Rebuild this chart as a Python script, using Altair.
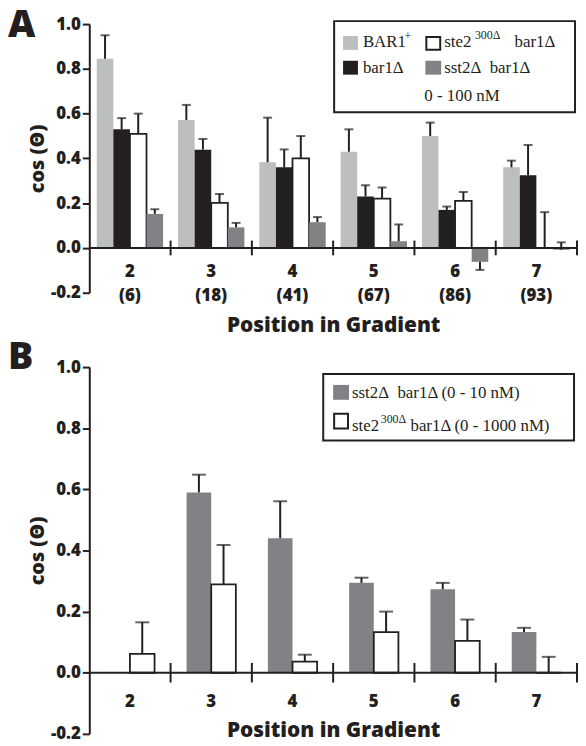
import altair as alt
import pandas as pd

# ---------------- data ----------------
positions = ["2", "3", "4", "5", "6", "7"]
conc_labels = ["(6)", "(18)", "(41)", "(67)", "(86)", "(93)"]

seriesA = ["BAR1+", "bar1Δ", "ste2-300Δ bar1Δ", "sst2Δ bar1Δ"]
colorsA = ["#bcbec0", "#231f20", "#ffffff", "#808285"]

bar1p_val = [0.845, 0.572, 0.383, 0.43, 0.50, 0.36]
bar1p_err = [0.95, 0.639, 0.582, 0.53, 0.56, 0.39]
bar1d_val = [0.53, 0.439, 0.36, 0.23, 0.17, 0.325]
bar1d_err = [0.58, 0.487, 0.44, 0.28, 0.185, 0.46]
ste2A_val = [0.51, 0.201, 0.40, 0.22, 0.21, 0.0]
ste2A_err = [0.60, 0.241, 0.50, 0.27, 0.25, 0.16]
sst2A_val = [0.152, 0.092, 0.115, 0.03, -0.062, -0.008]
sst2A_err = [0.173, 0.112, 0.138, 0.105, -0.098, 0.025]

seriesB = ["sst2Δ bar1Δ (0 - 10 nM)", "ste2-300Δ bar1Δ (0 - 1000 nM)"]
colorsB = ["#808285", "#ffffff"]
sst2B_val = [None, 0.59, 0.44, 0.294, 0.273, 0.133]
sst2B_err = [None, 0.648, 0.561, 0.311, 0.294, 0.147]
ste2B_val = [0.062, 0.289, 0.036, 0.133, 0.104, 0.0]
ste2B_err = [0.165, 0.418, 0.059, 0.20, 0.174, 0.052]

y_ticks = [-0.2, 0.0, 0.2, 0.4, 0.6, 0.8, 1.0]

# ---------------- style ----------------
SANS = "Open Sans"
SERIF = "Liberation Serif"
INK = "#231f20"
W = 492
HA = 271
HB = 370

catA = [f"{p}|{c}" for p, c in zip(positions, conc_labels)]
catB = list(positions)

rowsA = []
for i, cat in enumerate(catA):
    for s, v, e in zip(seriesA,
                       [bar1p_val[i], bar1d_val[i], ste2A_val[i], sst2A_val[i]],
                       [bar1p_err[i], bar1d_err[i], ste2A_err[i], sst2A_err[i]]):
        rowsA.append({"pos": cat, "series": s, "value": v, "err": e})
dfA = pd.DataFrame(rowsA)

rowsB = []
for i, cat in enumerate(catB):
    for s, v, e in zip(seriesB, [sst2B_val[i], ste2B_val[i]], [sst2B_err[i], ste2B_err[i]]):
        rowsB.append({"pos": cat, "series": s, "value": v, "err": e})
dfB = pd.DataFrame(rowsB)

ylabel_expr = "datum.value < 0 ? '-' + format(-datum.value, '.1f') : format(datum.value, '.1f')"


def y_axis():
    return alt.Axis(title="cos (Θ)", values=y_ticks, labelExpr=ylabel_expr, grid=False,
                    domainColor=INK, domainWidth=2, tickColor=INK, tickWidth=2, tickSize=7,
                    labelFont=SANS, labelFontWeight=800, labelFontSize=17, labelColor=INK,
                    labelPadding=2, titleFont=SANS, titleFontSize=20, titleFontWeight=800,
                    titleColor=INK, titlePadding=3)


def make_panel(df, cats, series, colors, white_series, height, pad_outer, cap,
               label_expr, label_pad, title_pad, tick_half):
    zero_off = -height / 6.0
    xaxis = alt.Axis(title="Position in Gradient", labelExpr=label_expr, labelAngle=0,
                     domain=False, ticks=False, tickSize=0, labelPadding=label_pad,
                     labelLineHeight=24, offset=zero_off, labelFont=SANS,
                     labelFontWeight=800, labelFontSize=17, labelColor=INK,
                     titleFont=SANS, titleFontSize=21, titleFontWeight=800,
                     titleColor=INK, titlePadding=title_pad)
    xscale = alt.Scale(domain=cats, paddingInner=0, paddingOuter=0)
    yscale = alt.Scale(domain=[-0.2, 1.0], nice=False, zero=False)
    offscale = alt.Scale(domain=series, paddingInner=0, paddingOuter=pad_outer)

    def X(bp=None):
        if bp is None:
            return alt.X("pos:N", sort=cats, scale=xscale, axis=xaxis)
        return alt.X("pos:N", sort=cats, scale=xscale, axis=xaxis, bandPosition=bp)

    def Y(field):
        return alt.Y(field, scale=yscale, axis=y_axis())

    XO = alt.XOffset("series:N", scale=offscale, sort=series)

    bars = alt.Chart(df).mark_bar(stroke=INK).encode(
        x=X(), xOffset=XO, y=Y("value:Q"),
        color=alt.Color("series:N", scale=alt.Scale(domain=series, range=colors), legend=None),
        strokeWidth=alt.condition(f"datum.series === '{white_series}'", alt.value(1.8), alt.value(0)),
    )
    errdf = df.dropna(subset=["err"])
    err = alt.Chart(errdf).mark_rule(color=INK, strokeWidth=2).encode(
        x=X(), xOffset=XO, y=Y("value:Q"), y2="err:Q")
    caps = alt.Chart(errdf).mark_tick(color=INK, thickness=2, size=cap).encode(
        x=X(), xOffset=XO, y=Y("err:Q"))
    zero = alt.Chart(alt.Data(values=[{}])).mark_rule(color=INK, strokeWidth=2).encode(
        y=alt.datum(0, scale=yscale))
    bdf = pd.DataFrame({"pos": cats[1:]})
    bticks = alt.Chart(bdf).mark_rule(color=INK, strokeWidth=2).encode(
        x=X(0), y=alt.datum(-tick_half), y2=alt.datum(tick_half))
    edf = pd.DataFrame({"pos": cats[-1:]})
    eticks = alt.Chart(edf).mark_rule(color=INK, strokeWidth=2).encode(
        x=X(1), y=alt.datum(-tick_half), y2=alt.datum(tick_half))
    return [bars, err, caps, zero, bticks, eticks]


def txt(x, y, s, size=17, font=SERIF, weight="normal", align="left", baseline="alphabetic"):
    return alt.Chart(alt.Data(values=[{}])).mark_text(
        align=align, baseline=baseline, font=font, fontSize=size, fontWeight=weight,
        color=INK).encode(x=alt.value(x), y=alt.value(y), text=alt.value(s))


def box(x0, y0, x1, y1, fill, stroke=None, sw=0):
    kw = {"fill": fill}
    if stroke is not None:
        kw.update(stroke=stroke, strokeWidth=sw)
    return alt.Chart(alt.Data(values=[{}])).mark_rect(**kw).encode(
        x=alt.value(x0), x2=alt.value(x1), y=alt.value(y0), y2=alt.value(y1))


NB = "\u00a0"

layersA = make_panel(dfA, catA, seriesA, colorsA, seriesA[2], HA, 0.45, 9,
                     "split(datum.label, '|')", 16, 11, 0.033)
legendA = [
    box(247, -3, 490, 89, "#ffffff", INK, 2),
    box(256, 12, 271, 26, colorsA[0]),
    txt(276, 23, "BAR1"),
    txt(318, 16, "+", size=12),
    box(340, 13, 354, 26, "#ffffff", INK, 2),
    txt(358, 23, "ste2"),
    txt(389, 15, "300Δ", size=12),
    txt(429, 23, "bar1Δ"),
    box(256, 37, 271, 51, colorsA[1]),
    txt(276, 49, "bar1Δ"),
    box(339, 37, 355, 51, colorsA[3]),
    txt(358, 49, "sst2Δ" + NB + " bar1Δ"),
    txt(376, 78, "0 - 100 nM", align="center"),
    txt(-82, -17, "A", size=38, font=SANS, weight=800, baseline="top"),
]
chartA = alt.layer(*layersA, *legendA).properties(width=W, height=HA)

layersB = make_panel(dfB, catB, seriesB, colorsB, seriesB[1], HB, 0.65, 14,
                     "datum.label", 21, 10, 0.032)
legendB = [
    box(236, 7, 489, 74, "#ffffff", INK, 2),
    box(246, 18, 262, 33, colorsB[0]),
    txt(265, 31, "sst2Δ" + NB + " bar1Δ (0 - 10 nM)"),
    box(247, 47, 261, 62, "#ffffff", INK, 2),
    txt(265, 64, "ste2"),
    txt(294, 56, "300Δ", size=12),
    txt(324, 64, "bar1Δ (0 - 1000 nM)"),
    txt(-82, -28, "B", size=38, font=SANS, weight=800, baseline="top"),
]
chartB = alt.layer(*layersB, *legendB).properties(width=W, height=HB)

chart = alt.vconcat(chartA, chartB, spacing=4).properties(
    padding={"top": -4, "left": 0, "right": 0, "bottom": 0}).resolve_scale(
    color="independent", xOffset="independent").configure_view(stroke=None)

chart.save("out.html", embed_options={"renderer": "svg", "actions": False})
